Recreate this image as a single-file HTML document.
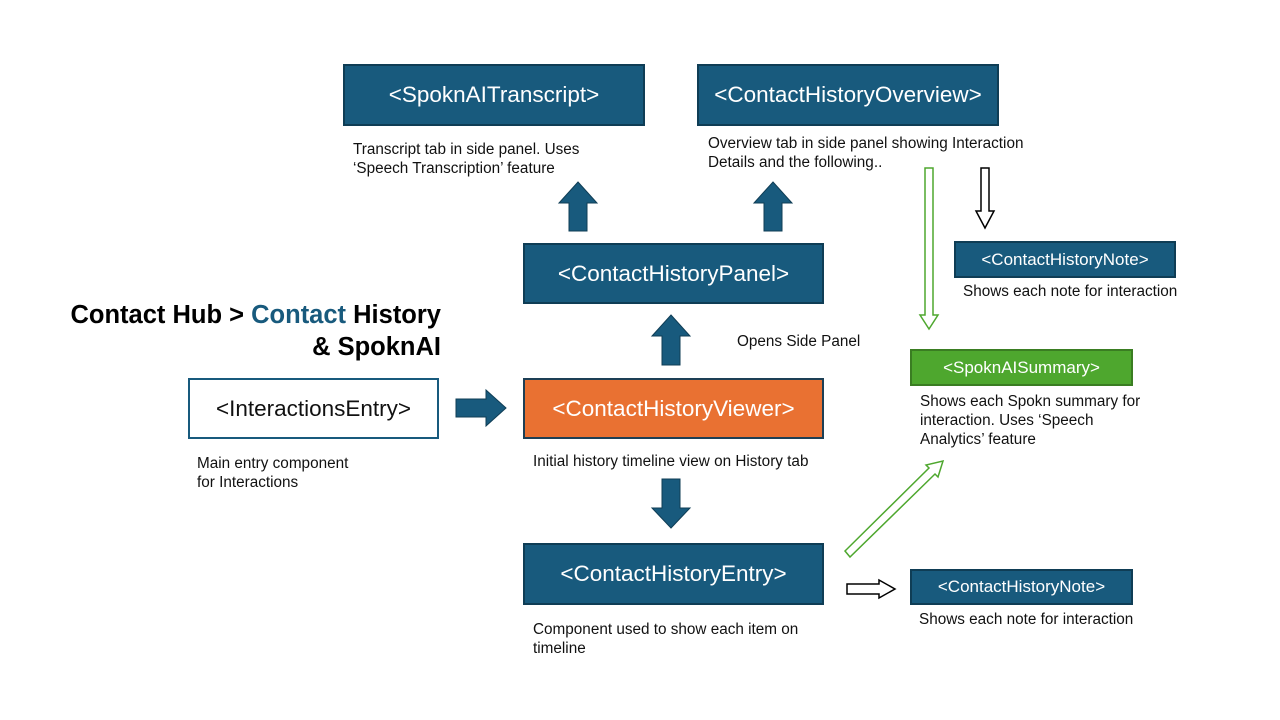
<!DOCTYPE html>
<html><head><meta charset="utf-8"><style>
body{margin:0;width:1280px;height:720px;background:#fff;position:relative;overflow:hidden;font-family:"Liberation Sans",sans-serif}
.b{position:absolute;box-sizing:border-box;background:#185a7d;border:2px solid #0f3d55;color:#fff;display:flex;align-items:center;justify-content:center;font-size:22.5px;white-space:nowrap}
.s{font-size:17px}
.t{position:absolute;font-size:15.3px;color:#111;line-height:19px;white-space:nowrap}
</style></head><body>
<div class="b" style="left:343px;top:64px;width:302px;height:62px">&lt;SpoknAITranscript&gt;</div>
<div class="b" style="left:697px;top:64px;width:302px;height:62px">&lt;ContactHistoryOverview&gt;</div>
<div class="b" style="left:523px;top:243px;width:301px;height:61px">&lt;ContactHistoryPanel&gt;</div>
<div class="b" style="left:188px;top:378px;width:251px;height:61px;background:#fff;color:#111;border-color:#185a7d">&lt;InteractionsEntry&gt;</div>
<div class="b" style="left:523px;top:378px;width:301px;height:61px;background:#e97132;border-color:#1d3f55">&lt;ContactHistoryViewer&gt;</div>
<div class="b" style="left:523px;top:543px;width:301px;height:62px">&lt;ContactHistoryEntry&gt;</div>
<div class="b s" style="left:954px;top:241px;width:222px;height:37px">&lt;ContactHistoryNote&gt;</div>
<div class="b s" style="left:910px;top:349px;width:223px;height:37px;background:#4ea72e;border-color:#3a7d22">&lt;SpoknAISummary&gt;</div>
<div class="b s" style="left:910px;top:569px;width:223px;height:36px">&lt;ContactHistoryNote&gt;</div>

<div style="position:absolute;left:20px;top:299px;width:421px;text-align:right;font-weight:bold;font-size:25.5px;line-height:32px;color:#000;white-space:nowrap">Contact Hub &gt; <span style="color:#185a7d">Contact</span> History<br>&amp; SpoknAI</div>

<div class="t" style="left:353px;top:140px">Transcript tab in side panel. Uses<br>‘Speech Transcription’ feature</div>
<div class="t" style="left:708px;top:134px">Overview tab in side panel showing Interaction<br>Details and the following..</div>
<div class="t" style="left:737px;top:332px">Opens Side Panel</div>
<div class="t" style="left:963px;top:282px">Shows each note for interaction</div>
<div class="t" style="left:920px;top:392px">Shows each Spokn summary for<br>interaction. Uses ‘Speech<br>Analytics’ feature</div>
<div class="t" style="left:197px;top:454px">Main entry component<br>for Interactions</div>
<div class="t" style="left:533px;top:452px">Initial history timeline view on History tab</div>
<div class="t" style="left:533px;top:620px">Component used to show each item on<br>timeline</div>
<div class="t" style="left:919px;top:610px">Shows each note for interaction</div>

<svg width="1280" height="720" style="position:absolute;left:0;top:0">
<g fill="#185a7d" stroke="#0f3d55" stroke-width="1">
<polygon points="578,182 597,203 587,203 587,231 569,231 569,203 559,203"/>
<polygon points="773,182 792,203 782,203 782,231 764,231 764,203 754,203"/>
<polygon points="671,315 690,336 680,336 680,365 662,365 662,336 652,336"/>
<polygon points="506,408 486,390 486,399 456,399 456,417 486,417 486,426"/>
<polygon points="671,528 690,508 680,508 680,479 662,479 662,508 652,508"/>
</g>
<g fill="#fff" stroke="#000" stroke-width="1.5">
<polygon points="985,228 994,211 989,211 989,168 981,168 981,211 976,211"/>
<polygon points="895,589 879,580 879,584 847,584 847,594 879,594 879,598"/>
</g>
<g fill="#fff" stroke="#4ea72e" stroke-width="1.5">
<polygon points="929,329 938,315 933,315 933,168 925,168 925,315 920,315"/>
<polygon points="943,461 938,477 935,474 850,557 845,551 929,468 926,465"/>
</g>
</svg>
</body></html>
